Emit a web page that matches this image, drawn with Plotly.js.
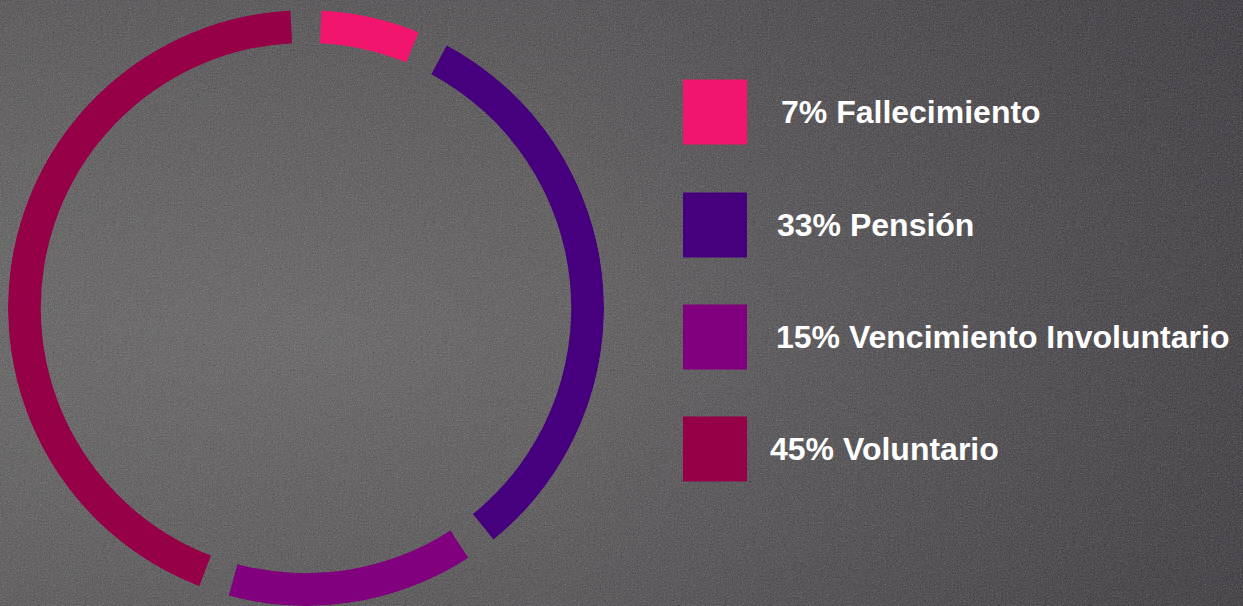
<!DOCTYPE html>
<html>
<head>
<meta charset="utf-8">
<script src="https://cdn.plot.ly/plotly-3.0.1.min.js"></script>
<style>
  html, body { margin:0; padding:0; width:1243px; height:606px; overflow:hidden; }
  body {
    background-color:#4d4a4d;
    background-image:
      url("data:image/svg+xml;utf8,<svg xmlns='http://www.w3.org/2000/svg' width='320' height='320'><filter id='n'><feTurbulence type='fractalNoise' baseFrequency='0.75' numOctaves='3' stitchTiles='stitch'/><feColorMatrix type='saturate' values='0'/><feComponentTransfer><feFuncR type='linear' slope='1.8' intercept='-0.4'/><feFuncG type='linear' slope='1.8' intercept='-0.4'/><feFuncB type='linear' slope='1.8' intercept='-0.4'/></feComponentTransfer></filter><rect width='100%' height='100%' filter='url(%23n)' opacity='0.32'/></svg>"),
      radial-gradient(ellipse at 25% 55%, rgba(110,108,108,0.45) 0%, rgba(80,78,80,0.2) 45%, rgba(40,36,42,0.35) 100%),
      linear-gradient(90deg, #5b595a 0%, #535052 45%, #434045 80%, #3a363c 100%);
  }
  #chart { width:1243px; height:606px; }
</style>
</head>
<body>
<div id="chart"></div>
<script>
// ---- data ----
const categories = ["Fallecimiento", "Pensión", "Vencimiento Involuntario", "Voluntario"];
const values = [7, 33, 15, 45];
const colors = ["#F2156D", "#46007E", "#80007E", "#960046"];

// ---- layout helpers (not data) ----
const gapDeg = 6;
const innerR = 0.89;
const textX = [779, 775, 774, 768];
const rowY = [112, 225, 337, 449];
const W = 1243, H = 606;

const total = values.reduce((a, b) => a + b, 0);
let cum = 0;
const theta = [], widths = [];
values.forEach(v => {
  const span = v / total * 360;
  theta.push(cum + span / 2);
  widths.push(span - gapDeg);
  cum += span;
});

const trace = {
  type: "barpolar",
  theta: theta,
  width: widths,
  r: values.map(() => 1 - innerR),
  base: values.map(() => innerR),
  marker: { color: colors, line: { width: 0 } },
  text: categories,
  hoverinfo: "text",
  showlegend: false
};

const shapes = [], annotations = [];
categories.forEach((c, i) => {
  const yc = rowY[i];
  shapes.push({
    type: "rect", xref: "paper", yref: "paper",
    x0: 683 / W, x1: 747 / W,
    y0: 1 - (yc + 32.5) / H, y1: 1 - (yc - 32.5) / H,
    fillcolor: colors[i], line: { width: 0 }
  });
  annotations.push({
    xref: "paper", yref: "paper",
    x: textX[i] / W, y: 1 - yc / H,
    xanchor: "left", yanchor: "middle",
    showarrow: false,
    text: "<b>" + values[i] + "% " + c + "</b>",
    font: { family: "Liberation Sans, Arial, sans-serif", size: 32, color: "#ffffff" }
  });
});

const layout = {
  width: W, height: H,
  margin: { l: 0, r: 0, t: 0, b: 0 },
  paper_bgcolor: "rgba(0,0,0,0)",
  plot_bgcolor: "rgba(0,0,0,0)",
  showlegend: false,
  polar: {
    domain: { x: [8 / W, 604 / W], y: [0, 596 / H] },
    bgcolor: "rgba(0,0,0,0)",
    radialaxis: { visible: false, range: [0, 1] },
    angularaxis: { visible: false, direction: "clockwise", rotation: 90 },
    bargap: 0
  },
  shapes: shapes,
  annotations: annotations
};

Plotly.newPlot("chart", [trace], layout, { displayModeBar: false, staticPlot: true });
</script>
</body>
</html>
